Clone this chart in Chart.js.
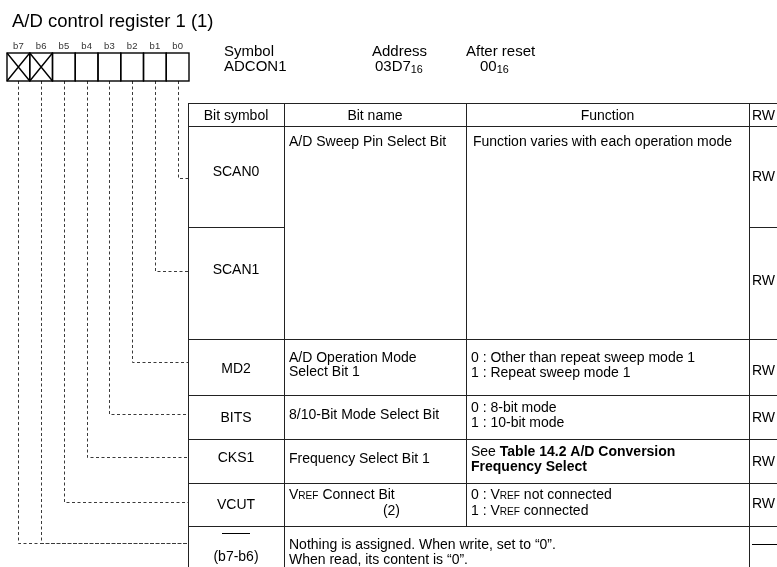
<!DOCTYPE html>
<html lang="en">
<head>
<meta charset="utf-8"/>
<title>A/D control register 1</title>
<script src="https://cdn.jsdelivr.net/npm/chart.js"></script>
<style>
  body { margin: 0; background: #fff; }
  #wrap { width: 777px; height: 567px; }
</style>
</head>
<body>
<div id="wrap"><canvas id="reg" width="777" height="567"></canvas></div>
<script>
  // register data
  const registerTitle = 'A/D control register 1 (1)';
  const bitLabels = ['b7', 'b6', 'b5', 'b4', 'b3', 'b2', 'b1', 'b0'];
  const unusedBits = ['b7', 'b6'];
  const headerInfo = [
    ['Symbol', 'ADCON1'],
    ['Address', [{ t: '03D7' }, { t: '16', sub: true }]],
    ['After reset', [{ t: '00' }, { t: '16', sub: true }]]
  ];
  const columnTitles = ['Bit symbol', 'Bit name', 'Function', 'RW'];
  const bitSymbols = [['SCAN0'], ['SCAN1'], ['MD2'], ['BITS'], ['CKS1'], ['VCUT'], ['——', '(b7-b6)']];
  const symbolBits = [['b0'], ['b1'], ['b2'], ['b3'], ['b4'], ['b5'], ['b7', 'b6']];
  const vref = [{ t: 'V' }, { t: 'REF', small: true }];
  const bitNames = [
    ['A/D Sweep Pin Select Bit'],
    null,
    ['A/D Operation Mode', 'Select Bit 1'],
    ['8/10-Bit Mode Select Bit'],
    ['Frequency Select Bit 1'],
    [[...vref, { t: ' Connect Bit' }], '(2)'],
    ['Nothing is assigned. When write, set to “0”.', 'When read, its content is “0”.']
  ];
  const bitFunctions = [
    ['Function varies with each operation mode'],
    null,
    ['0 : Other than repeat sweep mode 1', '1 : Repeat sweep mode 1'],
    ['0 : 8-bit mode', '1 : 10-bit mode'],
    [[{ t: 'See ' }, { t: 'Table 14.2 A/D Conversion', bold: true }], [{ t: 'Frequency Select', bold: true }]],
    [[{ t: '0 : ' }, ...vref, { t: ' not connected' }], [{ t: '1 : ' }, ...vref, { t: ' connected' }]],
    null
  ];
  const rwValues = ['RW', 'RW', 'RW', 'RW', 'RW', 'RW', '——'];

  // layout (pixels)
  const FONT = '"Liberation Sans", Arial, sans-serif';
  const box = { left: 7, top: 53, bottom: 81, cell: 22.75 };
  const cols = [188, 284, 466, 749, 800];
  const headTop = 103;
  const rowEdges = [126, 227, 339, 395, 439, 483, 526, 600];
  const tableBottom = 567;
  const symbolDy = [-6, -14, 1, 0, -4, -1, 0];
  const rwDy = [-1, -3, 3, 0, 0, -2, 0];
  const leaderY = [178, 271, 362, 414, 457, 502, 543];

  const bitX = b => box.left + (bitLabels.indexOf(b) + 0.5) * box.cell;

  // leader lines from each bit down to its row in the table
  const leaderSets = [];
  symbolBits.forEach((bits, r) => {
    bits.forEach(b => {
      leaderSets.push({
        data: [
          { x: Math.round(bitX(b)) + 0.5, y: box.bottom },
          { x: Math.round(bitX(b)) + 0.5, y: leaderY[r] + 0.5 },
          { x: cols[0], y: leaderY[r] + 0.5 }
        ],
        showLine: true,
        borderColor: '#3a3a3a',
        borderWidth: 1,
        borderDash: [3, 2.5],
        pointRadius: 0,
        tension: 0
      });
    });
  });

  function font(size, bold) {
    return (bold ? 'bold ' : '') + size + 'px ' + FONT;
  }

  function segs(line) {
    return typeof line === 'string' ? [{ t: line }] : line;
  }

  // draw a line of text made of styled pieces
  function drawRich(ctx, line, x, y, size, align) {
    const parts = segs(line);
    let w = 0;
    parts.forEach(p => {
      ctx.font = font(p.small || p.sub ? size * 0.72 : size, p.bold);
      p.w = ctx.measureText(p.t).width;
      w += p.w;
    });
    let cx = align === 'center' ? x - w / 2 : align === 'right' ? x - w : x;
    parts.forEach(p => {
      ctx.font = font(p.small || p.sub ? size * 0.72 : size, p.bold);
      ctx.textAlign = 'left';
      ctx.textBaseline = 'alphabetic';
      ctx.fillText(p.t, cx, y + size * 0.36 + (p.sub ? 2 : 0));
      cx += p.w;
    });
  }

  function drawBlock(ctx, lines, x, yMid, size, align, lh) {
    const n = lines.length;
    lines.forEach((l, i) => {
      drawRich(ctx, l, x, yMid + (i - (n - 1) / 2) * lh, size, align);
    });
  }

  const diagram = {
    id: 'diagram',
    afterDatasetsDraw(chart) {
      const ctx = chart.ctx;
      const sx = chart.scales.x, sy = chart.scales.y;
      const X = v => sx.getPixelForValue(v);
      const Y = v => sy.getPixelForValue(v);
      ctx.save();
      ctx.fillStyle = '#000';

      drawRich(ctx, registerTitle, X(12), Y(20), 18.5, 'left');

      // bit boxes
      bitLabels.forEach((b, i) => {
        const x0 = X(box.left + i * box.cell), x1 = X(box.left + (i + 1) * box.cell);
        ctx.fillStyle = '#333';
        drawRich(ctx, b, (x0 + x1) / 2, Y(46), 9.5, 'center');
        ctx.strokeStyle = '#000';
        ctx.lineWidth = 1.4;
        ctx.strokeRect(x0, Y(box.top), x1 - x0, Y(box.bottom) - Y(box.top));
        if (unusedBits.includes(b)) {
          ctx.beginPath();
          ctx.moveTo(x0, Y(box.top)); ctx.lineTo(x1, Y(box.bottom));
          ctx.moveTo(x1, Y(box.top)); ctx.lineTo(x0, Y(box.bottom));
          ctx.stroke();
        }
      });

      // symbol / address / reset header
      ctx.fillStyle = '#000';
      const infoX = [224, 372, 466];
      const valueX = [224, 375, 480];
      headerInfo.forEach((h, i) => {
        drawRich(ctx, h[0], X(infoX[i]), Y(51), 15, 'left');
        drawRich(ctx, h[1], X(valueX[i]), Y(66), 15, 'left');
      });

      // table grid
      ctx.strokeStyle = '#222';
      ctx.lineWidth = 1;
      const hline = (y, xa, xb) => {
        ctx.beginPath();
        ctx.moveTo(X(xa), Math.round(Y(y)) + 0.5);
        ctx.lineTo(X(xb), Math.round(Y(y)) + 0.5);
        ctx.stroke();
      };
      const vline = (x, ya, yb) => {
        ctx.beginPath();
        ctx.moveTo(Math.round(X(x)) + 0.5, Y(ya));
        ctx.lineTo(Math.round(X(x)) + 0.5, Y(yb));
        ctx.stroke();
      };
      hline(headTop, cols[0], cols[4]);
      rowEdges.slice(0, -1).forEach((y, i) => {
        if (i === 1) {
          hline(y, cols[0], cols[1]);
          hline(y, cols[3], cols[4]);
        } else {
          hline(y, cols[0], cols[4]);
        }
      });
      vline(cols[0], headTop, tableBottom);
      vline(cols[1], headTop, tableBottom);
      vline(cols[2], headTop, rowEdges[6]);
      vline(cols[3], headTop, tableBottom);

      // column titles
      const headMid = Y((headTop + rowEdges[0]) / 2);
      columnTitles.forEach((t, i) => {
        if (i === 3) drawRich(ctx, t, X(cols[3] + 3), headMid, 14, 'left');
        else drawRich(ctx, t, X((cols[i] + cols[i + 1]) / 2), headMid, 14, 'center');
      });

      // rows
      bitSymbols.forEach((sym, r) => {
        const top = rowEdges[r];
        const bottom = r === 6 ? tableBottom : rowEdges[r + 1];
        const mid = (top + bottom) / 2;
        if (r === 6) {
          drawRich(ctx, sym[1], X((cols[0] + cols[1]) / 2), Y(556), 14, 'center');
          drawRich(ctx, sym[0], X((cols[0] + cols[1]) / 2), Y(532), 14, 'center');
          drawRich(ctx, rwValues[r], X(cols[3] + 3), Y(543), 14, 'left');
        } else {
          drawRich(ctx, sym[0], X((cols[0] + cols[1]) / 2), Y(mid + symbolDy[r]), 14, 'center');
          drawRich(ctx, rwValues[r], X(cols[3] + 3), Y(mid + rwDy[r]), 14, 'left');
        }

        const name = bitNames[r], fn = bitFunctions[r];
        if (r === 0) {
          drawRich(ctx, name[0], X(cols[1] + 5), Y(top + 15), 14, 'left');
          drawRich(ctx, fn[0], X(cols[2] + 7), Y(top + 15), 14, 'left');
        } else if (r === 5) {
          drawRich(ctx, name[0], X(cols[1] + 5), Y(top + 11), 14, 'left');
          drawRich(ctx, name[1], X(cols[1] + 116), Y(top + 27), 14, 'right');
          drawBlock(ctx, fn, X(cols[2] + 5), Y(top + 19), 14, 'left', 16);
        } else if (r === 6) {
          drawBlock(ctx, name, X(cols[1] + 5), Y(551), 14, 'left', 15);
        } else if (name) {
          drawBlock(ctx, name, X(cols[1] + 5), Y(mid - 3), 14, 'left', 14);
          drawBlock(ctx, fn, X(cols[2] + 5), Y(mid - 3), 14, 'left', 15);
        }
      });
      ctx.restore();
    }
  };

  new Chart(document.getElementById('reg'), {
    type: 'scatter',
    data: { datasets: leaderSets },
    options: {
      responsive: false,
      animation: false,
      events: [],
      layout: { padding: 0 },
      plugins: { legend: { display: false }, tooltip: { enabled: false } },
      scales: {
        x: { type: 'linear', min: 0, max: 777, display: false },
        y: { type: 'linear', min: 0, max: 567, reverse: true, display: false }
      }
    },
    plugins: [diagram]
  });
</script>
</body>
</html>
